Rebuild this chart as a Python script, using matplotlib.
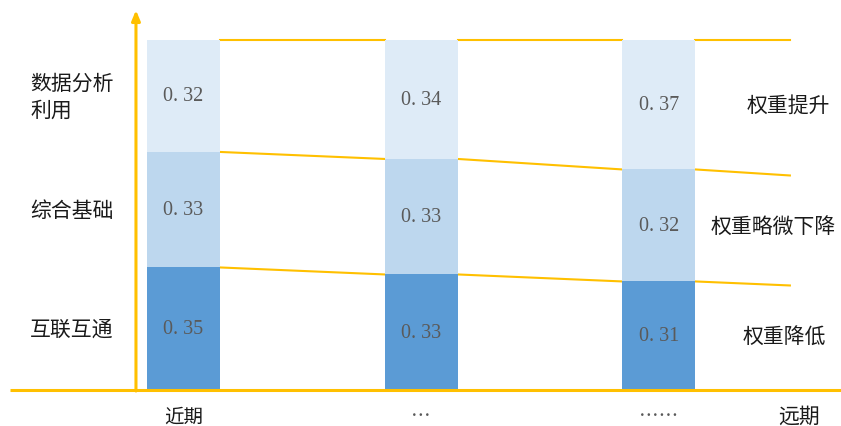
import numpy as np
import matplotlib.pyplot as plt

plt.rcParams['font.family'] = ['Noto Sans CJK SC', 'DejaVu Sans']

# 各阶段指标权重（自下而上）
periods = ['近期', '…', '……']
layers = ['互联互通', '综合基础', '数据分析\n利用']
trends = ['权重降低', '权重略微下降', '权重提升']
w_hulian = [0.35, 0.33, 0.31]
w_zonghe = [0.33, 0.33, 0.32]
w_shuju = [0.32, 0.34, 0.37]

colors = ['#5B9BD5', '#BDD7EE', '#DEEBF7']
yellow = '#FFC000'

weights = np.array([w_hulian, w_zonghe, w_shuju])
tops = np.cumsum(weights, axis=0)
bottoms = tops - weights

x = np.arange(len(periods))
bw = 0.307

fig = plt.figure(figsize=(8.41, 4.27), dpi=100)
ax = fig.add_axes([0, 0, 1, 1])
ax.set_xlim(-0.772, 2.766)
ax.set_ylim(-0.103, 1.117)
ax.axis('off')

for k in range(len(layers)):
    ax.bar(x, weights[k], bw, bottom=bottoms[k], color=colors[k],
           edgecolor='none', zorder=2)
    for i in range(len(periods)):
        ax.text(x[i], bottoms[k][i] + weights[k][i] / 2,
                '{:.2f}'.format(weights[k][i]).replace('.', '. '),
                ha='center', va='center', fontsize=14.5, color='#5a5a5a',
                family='Liberation Serif', zorder=3)

# 系列线：连接各柱分界，并向右延伸
x_end = 2.551
for k in range(len(layers)):
    lvl = tops[k]
    for i in range(len(periods) - 1):
        ax.plot([x[i] + bw / 2, x[i + 1] - bw / 2], [lvl[i], lvl[i + 1]],
                color=yellow, lw=1.5, zorder=1)
    slope = (lvl[-1] - lvl[-2]) / (x[-1] - x[-2] - bw)
    x0 = x[-1] + bw / 2
    ax.plot([x0, x_end], [lvl[-1], lvl[-1] + slope * (x_end - x0)],
            color=yellow, lw=1.5, zorder=1)

# 坐标轴
ax.plot([-0.73, 2.766], [0, 0], color=yellow, lw=2.2, zorder=4,
        solid_capstyle='butt')
ax.annotate('', xy=(-0.2, 1.085), xytext=(-0.2, -0.003),
            arrowprops=dict(arrowstyle='-|>,head_width=0.25,head_length=0.6',
                            color=yellow, lw=2.2, shrinkA=0, shrinkB=0),
            zorder=4)

# 左侧指标名称
for k in range(len(layers)):
    ax.text(-0.645, bottoms[k][0] + weights[k][0] / 2, layers[k],
            ha='left', va='center', fontsize=15, color='#1a1a1a',
            linespacing=1.3)

# 右侧权重变化说明
right_x = [2.526, 2.482, 2.544]
for k in range(len(trends)):
    ax.text(right_x[k], bottoms[k][-1] + weights[k][-1] / 2, trends[k],
            ha='center', va='center', fontsize=15, color='#1a1a1a')

# 横轴标签
for i in range(len(periods)):
    ax.text(x[i], -0.074, periods[i], ha='center', va='center',
            fontsize=14, color='#1a1a1a' if i == 0 else '#595959')
ax.text(2.589, -0.074, '远期', ha='center', va='center', fontsize=15,
        color='#1a1a1a')

fig.savefig('out.png', dpi=100)
